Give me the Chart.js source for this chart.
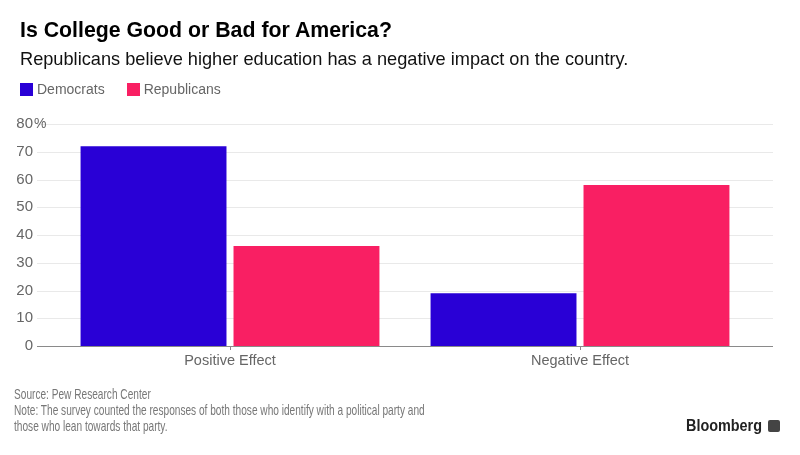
<!DOCTYPE html>
<html>
<head>
<meta charset="utf-8">
<script src="https://cdn.jsdelivr.net/npm/chart.js@4"></script>
<style>
  html, body { margin: 0; padding: 0; background: #fff; }
  #wrap { position: relative; width: 800px; height: 455px; overflow: hidden; font-family: "Liberation Sans", Arial, sans-serif; }
  #c { position: absolute; left: 0; top: 0; }
  .t { position: absolute; white-space: nowrap; }
  #title { left: 20px; top: 18px; font-size: 21.3px; font-weight: bold; color: #000; }
  #sub { left: 20px; top: 49px; font-size: 18.2px; color: #111; }
  #legend { left: 20px; top: 81px; font-size: 14px; color: #666; display: flex; }
  .li { display: flex; align-items: center; margin-right: 22px; }
  .sw { width: 13px; height: 13px; margin-right: 4px; }
  #foot { left: 14px; top: 386px; font-size: 15px; line-height: 16px; color: #777; transform: scaleX(0.675); transform-origin: 0 0; }
  #brand { left: 686px; top: 417px; font-weight: bold; font-size: 16px; color: #222; transform: scaleX(0.9); transform-origin: 0 0; }
  #logo { position: absolute; left: 768px; top: 420px; width: 12px; height: 12px; background: #444; border-radius: 2px; }
</style>
</head>
<body>
<div id="wrap">
  <canvas id="c" width="800" height="455"></canvas>
  <div class="t" id="title">Is College Good or Bad for America?</div>
  <div class="t" id="sub">Republicans believe higher education has a negative impact on the country.</div>
  <div class="t" id="legend"></div>
  <div class="t" id="foot">Source: Pew Research Center<br>Note: The survey counted the responses of both those who identify with a political party and<br>those who lean towards that party.</div>
  <div class="t" id="brand">Bloomberg</div>
  <div id="logo"></div>
</div>
<script>
const categories = ["Positive Effect", "Negative Effect"];
const seriesNames = ["Democrats", "Republicans"];
const democrats = [72, 19];
const republicans = [36, 58];
const yTicks = [0, 10, 20, 30, 40, 50, 60, 70, 80];
const colors = ["#2900D6", "#F91F63"];

// HTML legend
const leg = document.getElementById('legend');
seriesNames.forEach((n, i) => {
  const d = document.createElement('div'); d.className = 'li';
  const s = document.createElement('div'); s.className = 'sw'; s.style.background = colors[i];
  const t = document.createElement('span'); t.textContent = n;
  d.appendChild(s); d.appendChild(t); leg.appendChild(d);
});

const EXT = 18;
const FONT = '"Liberation Sans", Arial, sans-serif';
const gridPlugin = {
  id: 'extGrid',
  beforeDatasetsDraw(chart) {
    const ctx = chart.ctx, y = chart.scales.y, a = chart.chartArea;
    ctx.save();
    yTicks.forEach(v => {
      const py = Math.round(y.getPixelForValue(v)) + 0.5;
      ctx.strokeStyle = v === 0 ? '#8a8a8a' : '#e9e9e9';
      ctx.lineWidth = 1;
      ctx.beginPath(); ctx.moveTo(a.left - EXT, py); ctx.lineTo(a.right + EXT, py); ctx.stroke();
    });
    // percent sign after the top tick label
    const top = yTicks[yTicks.length - 1];
    ctx.fillStyle = '#666';
    ctx.font = '14px ' + FONT;
    ctx.textBaseline = 'middle';
    ctx.textAlign = 'left';
    ctx.fillText('%', 34, y.getPixelForValue(top));
    ctx.restore();
  }
};

new Chart(document.getElementById('c'), {
  type: 'bar',
  data: {
    labels: categories,
    datasets: [
      { label: seriesNames[0], data: democrats, backgroundColor: colors[0], borderWidth: 0 },
      { label: seriesNames[1], data: republicans, backgroundColor: colors[1], borderWidth: 0 }
    ]
  },
  options: {
    responsive: false,
    animation: false,
    devicePixelRatio: 1,
    categoryPercentage: 0.874,
    barPercentage: 0.954,
    layout: { padding: { left: 0, right: 45, top: 124, bottom: 79 } },
    plugins: { legend: { display: false }, title: { display: false }, tooltip: { enabled: false } },
    scales: {
      x: {
        afterFit(s) { s.height = 30; },
        grid: { display: true, offset: false, drawOnChartArea: false, drawTicks: true, tickLength: 4, color: '#8a8a8a' },
        border: { display: false },
        ticks: { color: '#666', font: { size: 14.5, family: FONT }, padding: 2 }
      },
      y: {
        min: 0, max: 80,
        afterFit(s) { s.width = 55; },
        afterBuildTicks(s) { s.ticks = yTicks.map(v => ({ value: v })); },
        grid: { display: false },
        border: { display: false },
        ticks: { color: '#666', font: { size: 15, family: FONT }, padding: 14, callback: v => String(v) }
      }
    }
  },
  plugins: [gridPlugin]
});
</script>
</body>
</html>
